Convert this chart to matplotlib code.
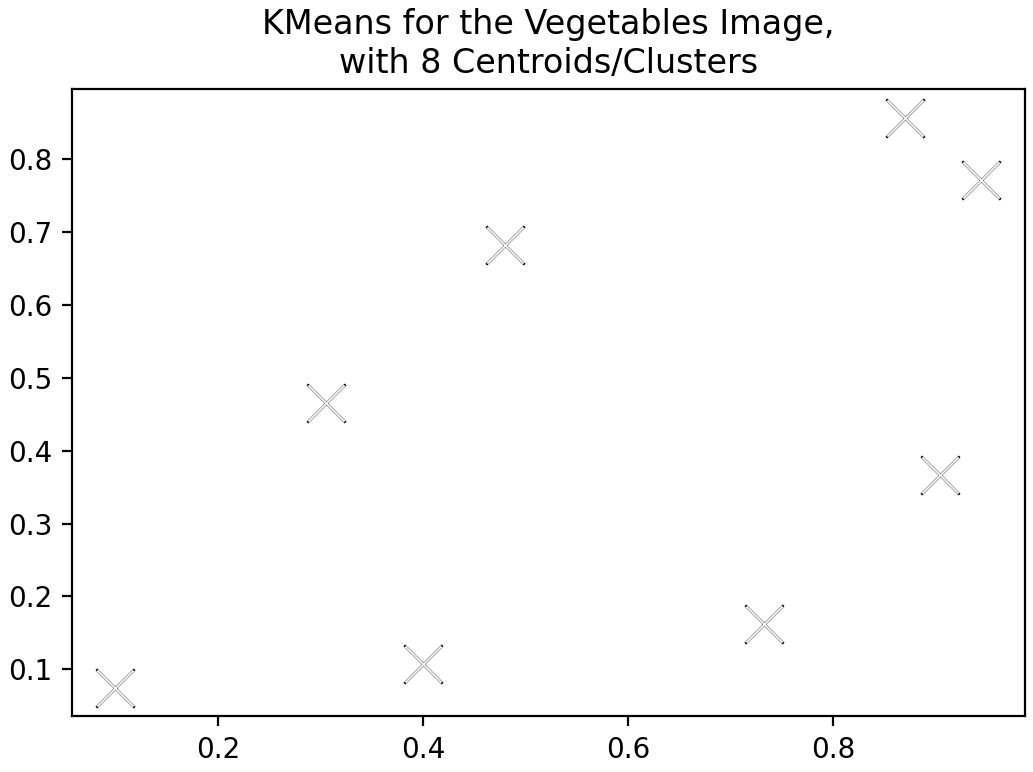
import matplotlib
matplotlib.use("Agg")
import matplotlib.pyplot as plt

cx = [0.10, 0.305, 0.40, 0.48, 0.733, 0.87, 0.905, 0.945]
cy = [0.075, 0.465, 0.107, 0.682, 0.162, 0.856, 0.366, 0.771]

fig, ax = plt.subplots(figsize=(1033 / 200, 772 / 200), dpi=200)
ax.scatter(cx, cy, marker="x", s=190, c="black", linewidths=0.9)
ax.scatter(cx, cy, marker="x", s=170, c="white", linewidths=0.7)
ax.set_title("KMeans for the Vegetables Image,\nwith 8 Centroids/Clusters")
fig.tight_layout(pad=0.3)
fig.savefig("out.png")
